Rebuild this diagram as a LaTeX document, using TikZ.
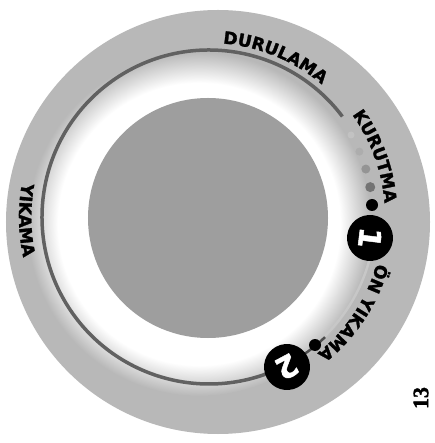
\documentclass[tikz,border=0pt]{standalone}
\usepackage{fontspec}
\newfontfamily\lblfont[BoldFeatures={FakeBold=1.6}]{DejaVu Sans}
\newfontfamily\pgfont[BoldFeatures={FakeBold=1.5}]{Liberation Serif}
\newcommand\lblfmt{\lblfont\bfseries\fontsize{17}{20}\selectfont}
\usetikzlibrary{decorations.text}
\pgfdeclareradialshading{ringfade}{\pgfpoint{0bp}{0bp}}{color(0bp)=(white); color(20.5bp)=(white); color(25bp)=(black!28); color(50bp)=(black!28)}
\begin{document}
\begin{tikzpicture}[x=1pt,y=1pt,
  track/.style={draw=black!62, line width=3.5pt},
  faint/.style={draw=black!22, line width=2.5pt},
  numdot/.style={circle, fill=black, minimum size=46pt, inner sep=0pt, text=white,
    font=\lblfont\bfseries\fontsize{30}{30}\selectfont},
  bigdot/.style={circle, fill=black, minimum size=12pt, inner sep=0pt},
  fadedot/.style={circle, inner sep=0pt},
  arclabel/.style={decorate, decoration={text along path, text align=center, text={|\lblfmt|#1}}}
]
\useasboundingbox (-209,-226) rectangle (225,217);
\fill[white] (-209,-226) rectangle (225,217);
% discs
\fill[black!28] (9,-5) circle[radius=212];
\shade[shading=ringfade] (-10,-7) circle[radius=172];
\fill[black!38] (-1,-1) circle[radius=120];
% track
\draw[track] (37:167) arc[start angle=37, end angle=297.5, radius=167];
\draw[faint] (-50:166) arc[start angle=-50, end angle=-8, radius=166];
\draw[draw=black!70, line width=2.5pt] (-62:167) arc[start angle=-62, end angle=-46, radius=167];
% dots
\node[bigdot] (d2) at (106,-128) {};
\node[bigdot] (d1) at (163,12) {};
\node[fadedot, fill=black!55, minimum size=10pt] (g1) at (10.5:164) {};
\node[fadedot, fill=black!42, minimum size=9pt] (g2) at (17:164) {};
\node[fadedot, fill=black!32, minimum size=8pt] (g3) at (23.5:164) {};
\node[fadedot, fill=black!24, minimum size=7pt] (g4) at (30:164) {};
% numbered circles
\node[numdot, rotate=-97] (n1) at (161,-21) {1};
\node[numdot, rotate=-152] (n2) at (78,-150) {2};
% labels
\path[arclabel=DURULAMA] (107.5:174) arc[start angle=107.5, end angle=27.5, radius=174];
\path[arclabel=KURUTMA] (60:176) arc[start angle=60, end angle=-20, radius=176];
\path[arclabel={ÖN YIKAMA}] (10:174) arc[start angle=10, end angle=-77, radius=174];
\path[arclabel=YIKAMA] (141:190) arc[start angle=141, end angle=221, radius=190];
% page number
\node[rotate=90, font=\pgfont\bfseries\fontsize{22}{22}\selectfont] (pg) at (212,-181) {13};
\end{tikzpicture}
\end{document}
